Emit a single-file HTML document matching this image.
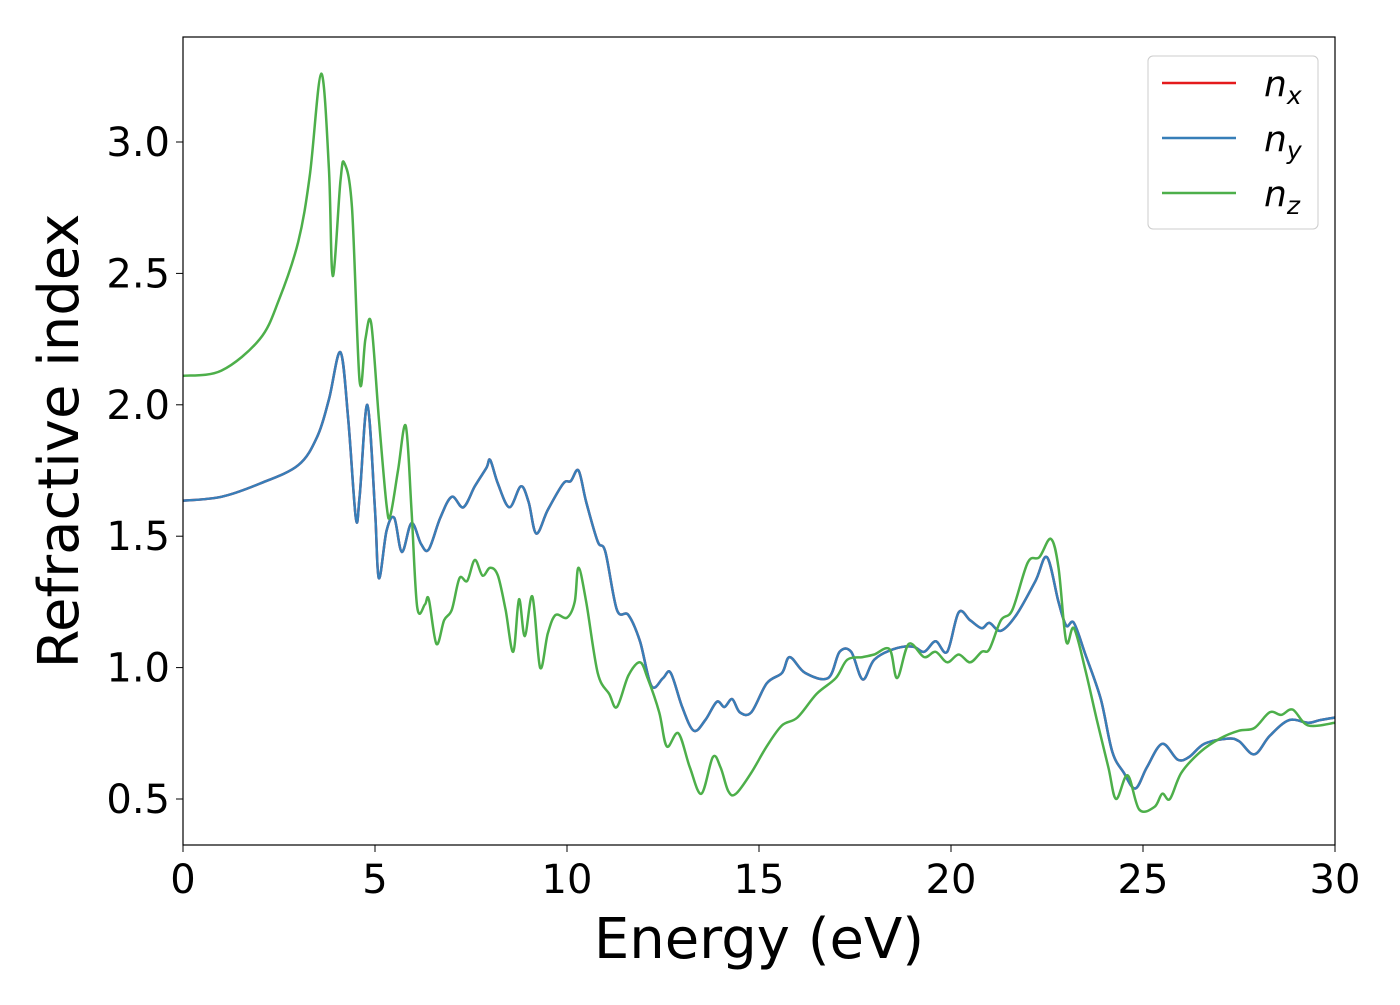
<!DOCTYPE html>
<html><head><meta charset="utf-8"><style>
body{margin:0;background:#fff;}
svg text{font-family:"DejaVu Sans","Liberation Sans",sans-serif;fill:#000;}
</style></head><body>
<svg width="1400" height="1000" id="chart">
<rect width="1400" height="1000" fill="#fff"/>
<g id="marks"></g>
<rect x="183" y="37" width="1152" height="808" fill="none" stroke="#000" stroke-width="1.2"/>
<g id="axes"></g>
<text x="759" y="958" font-size="56" text-anchor="middle">Energy (eV)</text>
<text transform="translate(78,441) rotate(-90)" font-size="56" text-anchor="middle">Refractive index</text>
<g>
<rect x="1148" y="56" width="170" height="173" rx="5" fill="#fff" fill-opacity="0.8" stroke="#ccc"/>
<g><line x1="1162" y1="83" x2="1236" y2="83" stroke="#e41a1c" stroke-width="2.5"/><text x="1264" y="96" font-size="36" font-style="italic">n<tspan font-size="25" dy="8">x</tspan></text></g>
<g><line x1="1162" y1="138" x2="1236" y2="138" stroke="#377eb8" stroke-width="2.5"/><text x="1264" y="151" font-size="36" font-style="italic">n<tspan font-size="25" dy="8">y</tspan></text></g>
<g><line x1="1162" y1="193" x2="1236" y2="193" stroke="#4daf4a" stroke-width="2.5"/><text x="1264" y="206" font-size="36" font-style="italic">n<tspan font-size="25" dy="8">z</tspan></text></g>
</g>
</svg>
<script>
const xTicks=[0,5,10,15,20,25,30];
const yTicks=[0.5,1.0,1.5,2.0,2.5,3.0];
const yTickLabels=["0.5","1.0","1.5","2.0","2.5","3.0"];
const nxyE=[0,1,2,3,3.5,3.8,4.1,4.3,4.5,4.6,4.8,5.0,5.1,5.3,5.5,5.7,5.95,6.2,6.4,6.7,7.0,7.3,7.6,7.9,8.0,8.2,8.5,8.8,9.0,9.2,9.5,9.9,10.1,10.3,10.5,10.8,11.0,11.3,11.6,11.9,12.2,12.5,12.7,13.0,13.3,13.6,13.9,14.1,14.3,14.5,14.8,15.2,15.6,15.8,16.2,16.8,17.1,17.4,17.7,18.0,18.5,19.0,19.3,19.6,19.9,20.2,20.5,20.8,21.0,21.3,21.7,22.2,22.5,22.8,23.0,23.2,23.5,23.9,24.2,24.5,24.8,25.1,25.5,25.9,26.2,26.6,27.2,27.5,27.9,28.3,28.8,29.3,29.6,30];
const nxyV=[1.635,1.65,1.70,1.77,1.88,2.02,2.20,1.95,1.57,1.65,2.00,1.6,1.34,1.52,1.57,1.44,1.55,1.47,1.45,1.57,1.65,1.61,1.69,1.76,1.79,1.70,1.61,1.69,1.63,1.51,1.60,1.70,1.71,1.75,1.63,1.48,1.44,1.22,1.20,1.10,0.93,0.96,0.98,0.85,0.76,0.80,0.87,0.85,0.88,0.83,0.83,0.94,0.98,1.04,0.98,0.96,1.06,1.06,0.955,1.03,1.07,1.08,1.06,1.10,1.06,1.21,1.18,1.15,1.17,1.14,1.20,1.33,1.42,1.25,1.16,1.17,1.05,0.88,0.68,0.60,0.54,0.62,0.71,0.65,0.66,0.71,0.73,0.72,0.67,0.74,0.80,0.79,0.80,0.81];
const nzE=[0,1,2,2.5,3.0,3.3,3.6,3.8,3.9,4.1,4.2,4.4,4.6,4.75,4.9,5.1,5.3,5.4,5.6,5.8,5.95,6.1,6.3,6.4,6.6,6.8,7.0,7.2,7.4,7.6,7.8,8.0,8.2,8.4,8.6,8.75,8.9,9.1,9.3,9.5,9.7,10.0,10.2,10.3,10.5,10.8,11.1,11.3,11.6,11.9,12.1,12.4,12.6,12.9,13.2,13.5,13.8,14.0,14.2,14.4,14.8,15.2,15.6,16.0,16.5,17.0,17.3,17.7,18.0,18.4,18.6,18.9,19.3,19.6,19.9,20.2,20.5,20.8,21.0,21.3,21.6,22.0,22.3,22.6,22.8,23.0,23.2,23.5,23.8,24.1,24.3,24.6,24.9,25.3,25.5,25.7,26.0,26.5,27.0,27.5,27.9,28.3,28.6,28.9,29.3,30];
const nzV=[2.11,2.13,2.25,2.40,2.62,2.87,3.26,2.90,2.49,2.85,2.92,2.75,2.09,2.25,2.31,1.95,1.62,1.58,1.75,1.92,1.60,1.23,1.24,1.26,1.09,1.18,1.22,1.34,1.33,1.41,1.35,1.38,1.35,1.22,1.06,1.26,1.12,1.27,1.00,1.13,1.20,1.19,1.25,1.38,1.25,0.98,0.90,0.85,0.97,1.02,0.96,0.83,0.70,0.75,0.62,0.52,0.66,0.62,0.53,0.52,0.60,0.70,0.78,0.81,0.90,0.96,1.03,1.04,1.05,1.07,0.96,1.09,1.04,1.06,1.02,1.05,1.02,1.06,1.07,1.18,1.22,1.40,1.42,1.49,1.38,1.10,1.15,0.99,0.80,0.62,0.50,0.59,0.46,0.47,0.52,0.50,0.60,0.68,0.73,0.76,0.77,0.83,0.82,0.84,0.78,0.79];

const X=e=>183+e*(1152/30);
const Y=v=>142+(3.0-v)*262.8;
const NS="http://www.w3.org/2000/svg";
function pathFor(E,V){
  const p=E.map((e,i)=>[X(e),Y(V[i])]);
  let d="M"+p[0][0].toFixed(1)+","+p[0][1].toFixed(1);
  for(let i=0;i<p.length-1;i++){
    const p0=p[Math.max(0,i-1)],p1=p[i],p2=p[i+1],p3=p[Math.min(p.length-1,i+2)];
    const c1=[p1[0]+(p2[0]-p0[0])/6,p1[1]+(p2[1]-p0[1])/6];
    const c2=[p2[0]-(p3[0]-p1[0])/6,p2[1]-(p3[1]-p1[1])/6];
    d+=" C"+c1.map(n=>n.toFixed(1))+" "+c2.map(n=>n.toFixed(1))+" "+p2.map(n=>n.toFixed(1));
  }
  return d;
}
const marks=document.getElementById('marks');
[["nx",nxyE,nxyV,"#e41a1c"],["ny",nxyE,nxyV,"#377eb8"],["nz",nzE,nzV,"#4daf4a"]].forEach(s=>{
  const el=document.createElementNS(NS,'path');
  el.setAttribute('d',pathFor(s[1],s[2]));
  el.setAttribute('fill','none');el.setAttribute('stroke',s[3]);el.setAttribute('stroke-width','2.5');
  
  
  marks.appendChild(el);
});
const axes=document.getElementById('axes');
xTicks.forEach(t=>{
  const l=document.createElementNS(NS,'line');
  l.setAttribute('x1',X(t));l.setAttribute('x2',X(t));l.setAttribute('y1',845);l.setAttribute('y2',852);l.setAttribute('stroke','#000');
  
  
  axes.appendChild(l);
  const tx=document.createElementNS(NS,'text');
  tx.setAttribute('x',X(t));tx.setAttribute('y',893);tx.setAttribute('font-size','40');tx.setAttribute('text-anchor','middle');
  tx.textContent=String(t);
  
  
  axes.appendChild(tx);
});
yTicks.forEach((t,i)=>{
  const l=document.createElementNS(NS,'line');
  l.setAttribute('x1',176);l.setAttribute('x2',183);l.setAttribute('y1',Y(t));l.setAttribute('y2',Y(t));l.setAttribute('stroke','#000');
  
  
  axes.appendChild(l);
  const tx=document.createElementNS(NS,'text');
  tx.setAttribute('x',170);tx.setAttribute('y',Y(t)+14);tx.setAttribute('font-size','40');tx.setAttribute('text-anchor','end');
  tx.textContent=yTickLabels[i];
  
  
  axes.appendChild(tx);
});
</script>
</body></html>
